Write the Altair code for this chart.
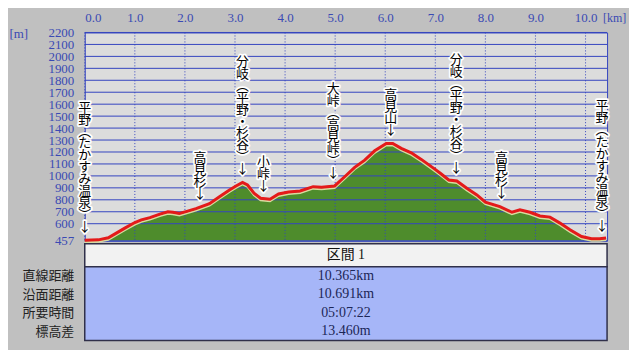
import altair as alt
import pandas as pd

# ---- profile data (horizontal distance km, elevation m) ----
km = [0.00, 0.27, 0.47, 0.63, 0.80, 1.00, 1.13, 1.30, 1.50, 1.66, 1.76, 1.89, 2.02, 2.22,
      2.49, 2.69, 2.89, 3.02, 3.15, 3.25, 3.38, 3.51, 3.70, 3.87, 4.07, 4.30, 4.56, 4.73,
      4.99, 5.19, 5.39, 5.59, 5.79, 6.02, 6.15, 6.32, 6.52, 6.72, 6.97, 7.10, 7.27, 7.43,
      7.63, 7.83, 8.00, 8.29, 8.53, 8.69, 8.89, 9.09, 9.29, 9.49, 9.69, 9.92, 10.12, 10.28, 10.41]
elev = [462, 465, 482, 521, 563, 610, 632, 651, 680, 699, 696, 685, 701, 726,
        768, 826, 882, 916, 946, 924, 855, 813, 805, 849, 866, 874, 910, 905,
        916, 993, 1072, 1132, 1210, 1272, 1272, 1230, 1193, 1138, 1063, 1022, 966, 957,
        896, 841, 780, 743, 696, 716, 696, 665, 655, 605, 549, 493, 474, 474, 480]

# ---- waypoint labels ----
label_names = ["平野(たかすみ温泉)", "高見杉", "分岐(平野・杉谷)", "小峠", "大峠(高見峠)",
               "高見山", "分岐(平野・杉谷)", "高見杉", "平野(たかすみ温泉)"]
label_km = [0.00, 2.30, 3.15, 3.57, 4.96, 6.11, 7.42, 8.32, 10.33]
label_elev = [462, 738, 946, 806, 916, 1272, 957, 745, 474]

# ---- axes ----
y_ticks = [457, 600, 700, 800, 900, 1000, 1100, 1200, 1300, 1400, 1500, 1600,
           1700, 1800, 1900, 2000, 2100, 2200]
x_ticks = [0, 1, 2, 3, 4, 5, 6, 7, 8, 9, 10]
x_max = 10.43
y_min, y_max = 457, 2200

# ---- summary table ----
section_name = "区間 1"
row_names = ["直線距離", "沿面距離", "所要時間", "標高差"]
row_values = ["10.365km", "10.691km", "05:07:22", "13.460m"]

BLUE = "#3444c0"
AXIS_TXT = "#3a4ab4"
SERIF = "Liberation Serif"
JP = "Noto Sans CJK JP"
PLOT_W, PLOT_H = 524, 209
LH = 12


def vertical(s):
    s = s.replace("(", "︵").replace(")", "︶")
    return list(s) + ["↓"]


lines = [vertical(n) for n in label_names]
prof = pd.DataFrame({"km": km, "elev": elev})
labs = pd.DataFrame({"name": ["\n".join(l) for l in lines],
                     "n": [len(l) for l in lines],
                     "km": label_km, "elev": label_elev})
hgrid = pd.DataFrame({"v": y_ticks})
vgrid = pd.DataFrame({"v": x_ticks})

xs = alt.Scale(domain=[0, x_max], nice=False, zero=False)
ys = alt.Scale(domain=[y_min, y_max], nice=False, zero=False)

x_axis = alt.Axis(orient="top", values=x_ticks, format=".1f", grid=False, ticks=False,
                  domain=False, labelColor=AXIS_TXT, labelFont=SERIF, labelFontSize=13,
                  labelPadding=8, labelFlush=True, labelOverlap=False, title="[km]",
                  titleFont=SERIF, titleFontSize=12, titleFontWeight="normal",
                  titleColor=AXIS_TXT, titleX=531, titleY=-15, titleAlign="center",
                  titleBaseline="middle")
y_axis = alt.Axis(values=y_ticks, format="d", grid=False, ticks=False, domain=False,
                  labelColor=AXIS_TXT, labelFont=SERIF, labelFontSize=13, labelPadding=11,
                  labelOverlap=False, title="[m]", titleFont=SERIF, titleFontSize=13,
                  titleFontWeight="normal", titleColor=AXIS_TXT, titleAngle=0,
                  titleX=-76, titleY=1, titleAlign="left", titleBaseline="middle")


def X(field):
    return alt.X(field, type="quantitative", scale=xs, axis=x_axis)


def Y(field):
    return alt.Y(field, type="quantitative", scale=ys, axis=y_axis)


base = alt.Chart(prof)

area = base.mark_area(color="#4e8c2c", opacity=1).encode(
    x=X("km"), y=Y("elev"), y2=alt.datum(y_min),
)
hrules = alt.Chart(hgrid).mark_rule(color=BLUE, strokeWidth=1).encode(y=Y("v"))
vrules = alt.Chart(vgrid).mark_rule(color=BLUE, strokeWidth=1, strokeDash=[1, 2]).encode(x=X("v"))

edge = base.mark_line(color="#d8dca0", strokeWidth=2, yOffset=2).encode(x=X("km"), y=Y("elev"))
line = base.mark_line(color="#e41a1a", strokeWidth=3).encode(x=X("km"), y=Y("elev"))

# multi-line text flows downward from its anchor: lift the anchor by the block height
lift = f"datum.elev + (datum.n - 1) * {LH} * {(y_max - y_min)} / {PLOT_H}"
txt_kw = dict(font=JP, fontSize=13, lineHeight=LH, lineBreak="\n", baseline="bottom",
              align="center", dy=-6)
lab_base = alt.Chart(labs).transform_calculate(ytop=lift)
halo = lab_base.mark_text(stroke="white", strokeWidth=3.5, strokeJoin="round",
                          fill="white", **txt_kw).encode(x=X("km"), y=Y("ytop"), text="name:N")
text = lab_base.mark_text(color="#000000", **txt_kw).encode(x=X("km"), y=Y("ytop"), text="name:N")

profile = alt.layer(area, hrules, vrules, edge, line, halo, text).properties(
    width=PLOT_W, height=PLOT_H,
    view=alt.ViewBackground(fill="#dcdcdc", stroke=BLUE, strokeWidth=1),
)

header = alt.Chart(pd.DataFrame({"s": [section_name]})).mark_text(
    font=f"{SERIF}, {JP}", fontSize=14, color="#111111"
).encode(text="s:N").properties(
    width=PLOT_W, height=23,
    view=alt.ViewBackground(fill="#f2f2f2", stroke="#30304a", strokeWidth=1.5),
)

body = alt.Chart(pd.DataFrame({"item": row_names, "val": row_values})).mark_text(
    font=SERIF, fontSize=14, color="#1c2656"
).encode(
    y=alt.Y("item:N", sort=row_names,
            axis=alt.Axis(title=None, ticks=False, domain=False, labelFont=JP,
                          labelFontSize=13, labelColor="#222222", labelPadding=11)),
    text="val:N",
).properties(
    width=PLOT_W, height=74,
    view=alt.ViewBackground(fill="#a6b6f8", stroke="#30304a", strokeWidth=1.5),
)

chart = alt.vconcat(
    profile, alt.vconcat(header, body, spacing=0, bounds="flush"),
    spacing=3, bounds="flush",
).properties(
    padding={"left": 0, "top": 2, "right": 2, "bottom": 8},
    background="#c0c0c0",
).configure_scale(bandPaddingInner=0)

chart.save("out.html", embed_options={"renderer": "svg", "actions": False})
